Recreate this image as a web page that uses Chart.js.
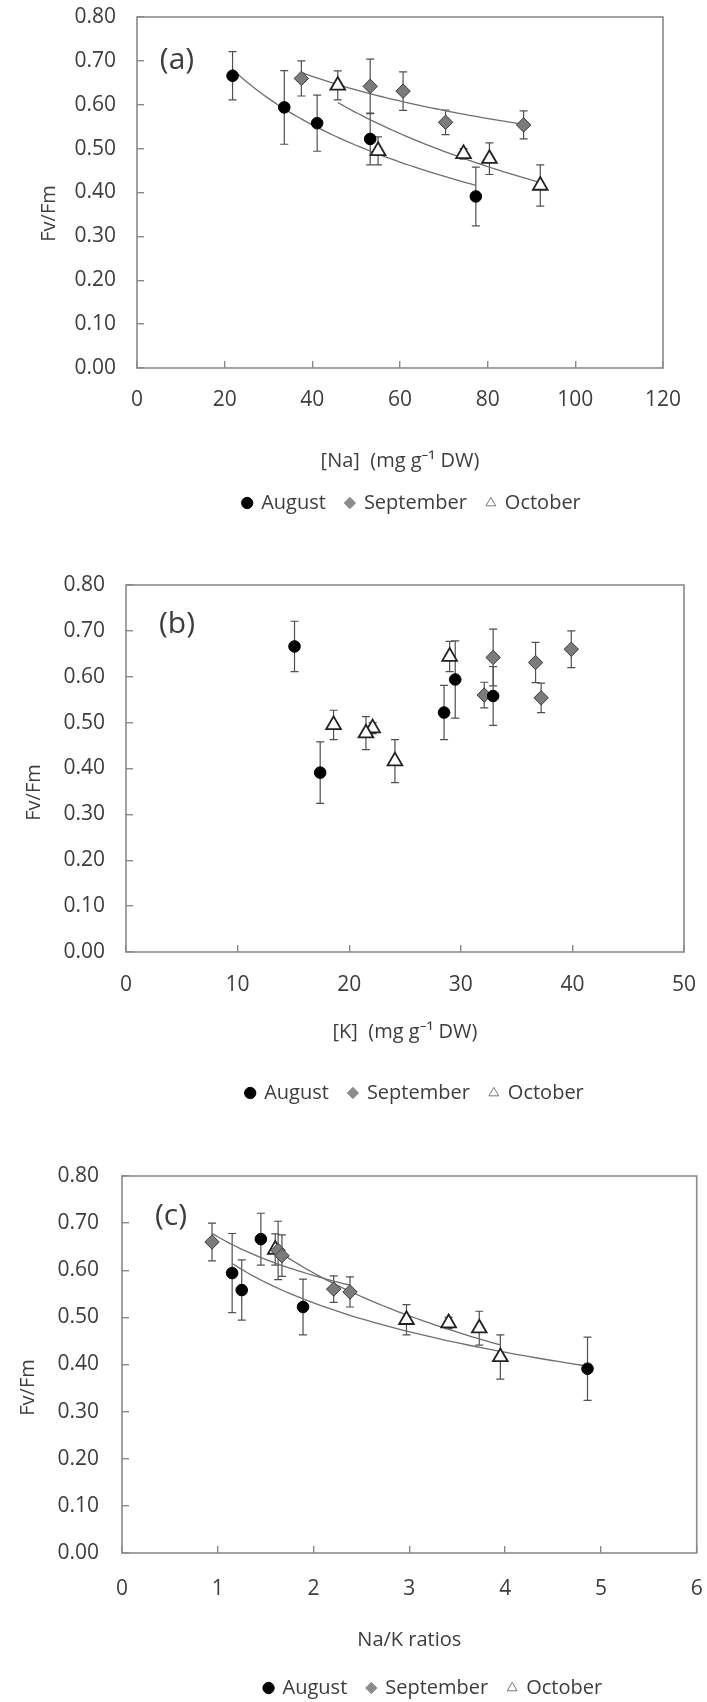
<!DOCTYPE html>
<html>
<head>
<meta charset="utf-8">
<title>Fv/Fm vs Na, K and Na/K</title>
<script src="https://cdn.jsdelivr.net/npm/chart.js@4.4.1/dist/chart.umd.min.js"></script>
<style>
  html, body { margin: 0; padding: 0; background: #fff; overflow: hidden; }
  .panel { position: absolute; left: 0; }
  .panel canvas { display: block; }
</style>
</head>
<body>
<div class="panel" style="top:0"><canvas id="chart-na" width="707" height="523"></canvas></div>
<div class="panel" style="top:560px"><canvas id="chart-k" width="707" height="553"></canvas></div>
<div class="panel" style="top:1150px"><canvas id="chart-ratio" width="707" height="558"></canvas></div>
<script>
// Fv/Fm means and error bars per sampling month, with leaf Na, K and Na/K
const fvfmAug  = [0.666, 0.594, 0.558, 0.522, 0.391];
const errAug   = [0.055, 0.084, 0.064, 0.059, 0.067];
const naAug    = [21.8, 33.6, 41.1, 53.2, 77.3];
const kAug     = [15.1, 29.5, 32.9, 28.5, 17.4];
const ratioAug = [1.45, 1.15, 1.25, 1.89, 4.86];

const fvfmSep  = [0.660, 0.642, 0.631, 0.560, 0.554];
const errSep   = [0.040, 0.062, 0.044, 0.028, 0.032];
const naSep    = [37.5, 53.2, 60.7, 70.4, 88.2];
const kSep     = [39.9, 32.9, 36.7, 32.1, 37.2];
const ratioSep = [0.94, 1.63, 1.67, 2.21, 2.38];

const fvfmOct  = [0.644, 0.495, 0.488, 0.477, 0.416];
const errOct   = [0.033, 0.032, 0.012, 0.036, 0.047];
const naOct    = [45.8, 55.0, 74.5, 80.4, 92.0];
const kOct     = [29.0, 18.6, 22.1, 21.5, 24.1];
const ratioOct = [1.60, 2.97, 3.41, 3.73, 3.95];

const fvfmTicks  = [0, 0.1, 0.2, 0.3, 0.4, 0.5, 0.6, 0.7, 0.8];
const naTicks    = [0, 20, 40, 60, 80, 100, 120];
const kTicks     = [0, 10, 20, 30, 40, 50];
const ratioTicks = [0, 1, 2, 3, 4, 5, 6];

const FONT = "'Open Sans', 'Noto Sans', sans-serif";
const TEXT = '#3d3d3d';
const FRAME = '#8a8a8a';

const markerStyle = {
  August:    { pointStyle: 'circle',   pointRadius: 5.8, backgroundColor: '#000', borderColor: '#000', borderWidth: 1,   legendFill: '#000', legendStroke: '#000' },
  September: { pointStyle: 'rectRot',  pointRadius: 7.2, backgroundColor: '#7b7b7b', borderColor: '#3a3a3a', borderWidth: 1, legendFill: '#8c8c8c', legendStroke: '#8c8c8c' },
  October:   { pointStyle: 'triangle', pointRadius: 8.5, backgroundColor: '#fff', borderColor: '#222', borderWidth: 1.8, legendFill: '#fff', legendStroke: '#777' },
};

const toPoints = (xs, ys) => xs.map((x, i) => ({ x, y: ys[i] }));

function markerSet(label, xs, ys, errors) {
  return { label, data: toPoints(xs, ys), errors, pointHoverRadius: markerStyle[label].pointRadius, ...markerStyle[label] };
}

// logarithmic least-squares trendline (y = a + b ln x) over the series' x range
function trendSet(xs, ys) {
  const lx = xs.map(Math.log);
  const n = xs.length;
  const mx = lx.reduce((s, v) => s + v, 0) / n;
  const my = ys.reduce((s, v) => s + v, 0) / n;
  let sxy = 0, sxx = 0;
  lx.forEach((v, i) => { sxy += (v - mx) * (ys[i] - my); sxx += (v - mx) * (v - mx); });
  const b = sxy / sxx;
  const a = my - b * mx;
  const lo = Math.min(...xs), hi = Math.max(...xs);
  const data = [];
  for (let i = 0; i <= 48; i++) {
    const x = lo + (hi - lo) * i / 48;
    data.push({ x, y: a + b * Math.log(x) });
  }
  return { label: 'trend', data, showLine: true, pointRadius: 0, borderColor: '#6f6f6f', borderWidth: 1.3, fill: false };
}

// frame, error bars, y title and panel tag
const panelDecor = {
  id: 'panelDecor',
  afterLayout(chart, args, opts) {
    // legend sits a little right of the plot centre
    const lg = chart.legend;
    if (lg && opts.legendDx) { lg.left += opts.legendDx; lg.right += opts.legendDx; }
  },
  beforeDatasetsDraw(chart) {
    const { ctx, chartArea: a, scales: { x, y } } = chart;
    ctx.save();
    ctx.strokeStyle = FRAME;
    ctx.lineWidth = 1.6;
    ctx.strokeRect(a.left, a.top, a.right - a.left, a.bottom - a.top);

    ctx.strokeStyle = '#505050';
    ctx.lineWidth = 1.2;
    chart.data.datasets.forEach(ds => {
      if (!ds.errors) return;
      ds.data.forEach((p, j) => {
        const px = x.getPixelForValue(p.x);
        const top = y.getPixelForValue(p.y + ds.errors[j]);
        const bot = y.getPixelForValue(p.y - ds.errors[j]);
        ctx.beginPath();
        ctx.moveTo(px, top); ctx.lineTo(px, bot);
        ctx.moveTo(px - 4, top); ctx.lineTo(px + 4, top);
        ctx.moveTo(px - 4, bot); ctx.lineTo(px + 4, bot);
        ctx.stroke();
      });
    });
    ctx.restore();
  },
  afterDraw(chart, args, opts) {
    const { ctx, chartArea: a } = chart;
    ctx.save();
    ctx.fillStyle = TEXT;
    ctx.textAlign = 'center';
    ctx.textBaseline = 'middle';
    ctx.font = `30px ${FONT}`;
    ctx.fillText(opts.tag, a.left + opts.tagDx, a.top + opts.tagDy);

    ctx.translate(a.left - opts.titleDx, (a.top + a.bottom) / 2 + opts.titleDy);
    ctx.rotate(-Math.PI / 2);
    ctx.font = `20px ${FONT}`;
    ctx.fillText('Fv/Fm', 0, 0);
    ctx.restore();
  },
};

function buildPanel(id, p) {
  const datasets = [
    markerSet('August', p.xAug, fvfmAug, errAug),
    markerSet('September', p.xSep, fvfmSep, errSep),
    markerSet('October', p.xOct, fvfmOct, errOct),
  ];
  if (p.trend) {
    datasets.push(trendSet(p.xAug, fvfmAug), trendSet(p.xSep, fvfmSep), trendSet(p.xOct, fvfmOct));
  }

  return new Chart(document.getElementById(id), {
    type: 'scatter',
    data: { datasets },
    plugins: [panelDecor],
    options: {
      responsive: false,
      animation: false,
      events: [],
      layout: { padding: { top: p.padTop, right: p.padRight, bottom: 0, left: 0 } },
      plugins: {
        tooltip: { enabled: false },
        legend: {
          position: 'bottom',
          fullSize: false,
          labels: {
            usePointStyle: true,
            boxWidth: 8,
            boxHeight: 8,
            padding: 20,
            color: TEXT,
            font: { family: FONT, size: 20 },
            generateLabels: chart => chart.data.datasets
              .map((ds, i) => ({ ds, i }))
              .filter(({ ds }) => ds.errors)
              .map(({ ds, i }) => ({
                text: ds.label,
                datasetIndex: i,
                pointStyle: ds.pointStyle,
                fillStyle: ds.legendFill,
                strokeStyle: ds.legendStroke,
                lineWidth: 1,
                fontColor: TEXT,
                hidden: false,
              })),
          },
        },
        panelDecor: {
          tag: p.tag, tagDx: p.tagDx, tagDy: p.tagDy,
          titleDx: p.titleDx, titleDy: p.titleDy, legendDx: p.legendDx,
        },
      },
      scales: {
        x: {
          type: 'linear',
          min: p.xTicks[0],
          max: p.xTicks[p.xTicks.length - 1],
          afterBuildTicks: s => { s.ticks = p.xTicks.map(value => ({ value })); },
          // fixed axis band; label overhang is covered by the layout padding
          afterFit: s => { s.height = p.xAxisHeight; s.paddingLeft = 0; s.paddingRight = 0; },
          border: { display: false },
          grid: { drawOnChartArea: false, tickLength: -7, color: FRAME, lineWidth: 1.4 },
          ticks: { padding: p.xTickPad, color: TEXT, font: { family: FONT, size: 21 }, callback: v => String(v) },
          title: {
            display: true,
            text: p.xTitle,
            color: TEXT,
            font: { family: FONT, size: 20 },
            padding: { top: 0, bottom: p.xTitlePad },
          },
        },
        y: {
          type: 'linear',
          min: 0,
          max: 0.8,
          afterBuildTicks: s => { s.ticks = fvfmTicks.map(value => ({ value })); },
          afterFit: s => { s.width = p.yAxisWidth; s.paddingTop = 0; s.paddingBottom = 0; },
          border: { display: false },
          grid: { drawOnChartArea: false, tickLength: -7, color: FRAME, lineWidth: 1.4 },
          ticks: { padding: p.yTickPad, color: TEXT, font: { family: FONT, size: 21 }, callback: v => v.toFixed(2) },
        },
      },
    },
  });
}

buildPanel('chart-na', {
  tag: '(a)', xTitle: '[Na]  (mg g\u207B\u00B9 DW)', xTicks: naTicks,
  xAug: naAug, xSep: naSep, xOct: naOct, trend: true,
  padTop: 17, padRight: 44, yAxisWidth: 137, xAxisHeight: 105,
  xTickPad: 26, yTickPad: 28, xTitlePad: 0,
  tagDx: 40, tagDy: 43, titleDx: 88, titleDy: 21, legendDx: 12,
});

buildPanel('chart-k', {
  tag: '(b)', xTitle: '[K]  (mg g\u207B\u00B9 DW)', xTicks: kTicks,
  xAug: kAug, xSep: kSep, xOct: kOct, trend: false,
  padTop: 25, padRight: 23, yAxisWidth: 126, xAxisHeight: 111,
  xTickPad: 27, yTickPad: 28, xTitlePad: 19,
  tagDx: 51, tagDy: 39, titleDx: 92, titleDy: 24, legendDx: 10,
});

buildPanel('chart-ratio', {
  tag: '(c)', xTitle: 'Na/K ratios', xTicks: ratioTicks,
  xAug: ratioAug, xSep: ratioSep, xOct: ratioOct, trend: true,
  padTop: 26, padRight: 9, yAxisWidth: 122, xAxisHeight: 105,
  xTickPad: 30, yTickPad: 30, xTitlePad: 6,
  tagDx: 49, tagDy: 40, titleDx: 94, titleDy: 23, legendDx: 24,
});
</script>
</body>
</html>
